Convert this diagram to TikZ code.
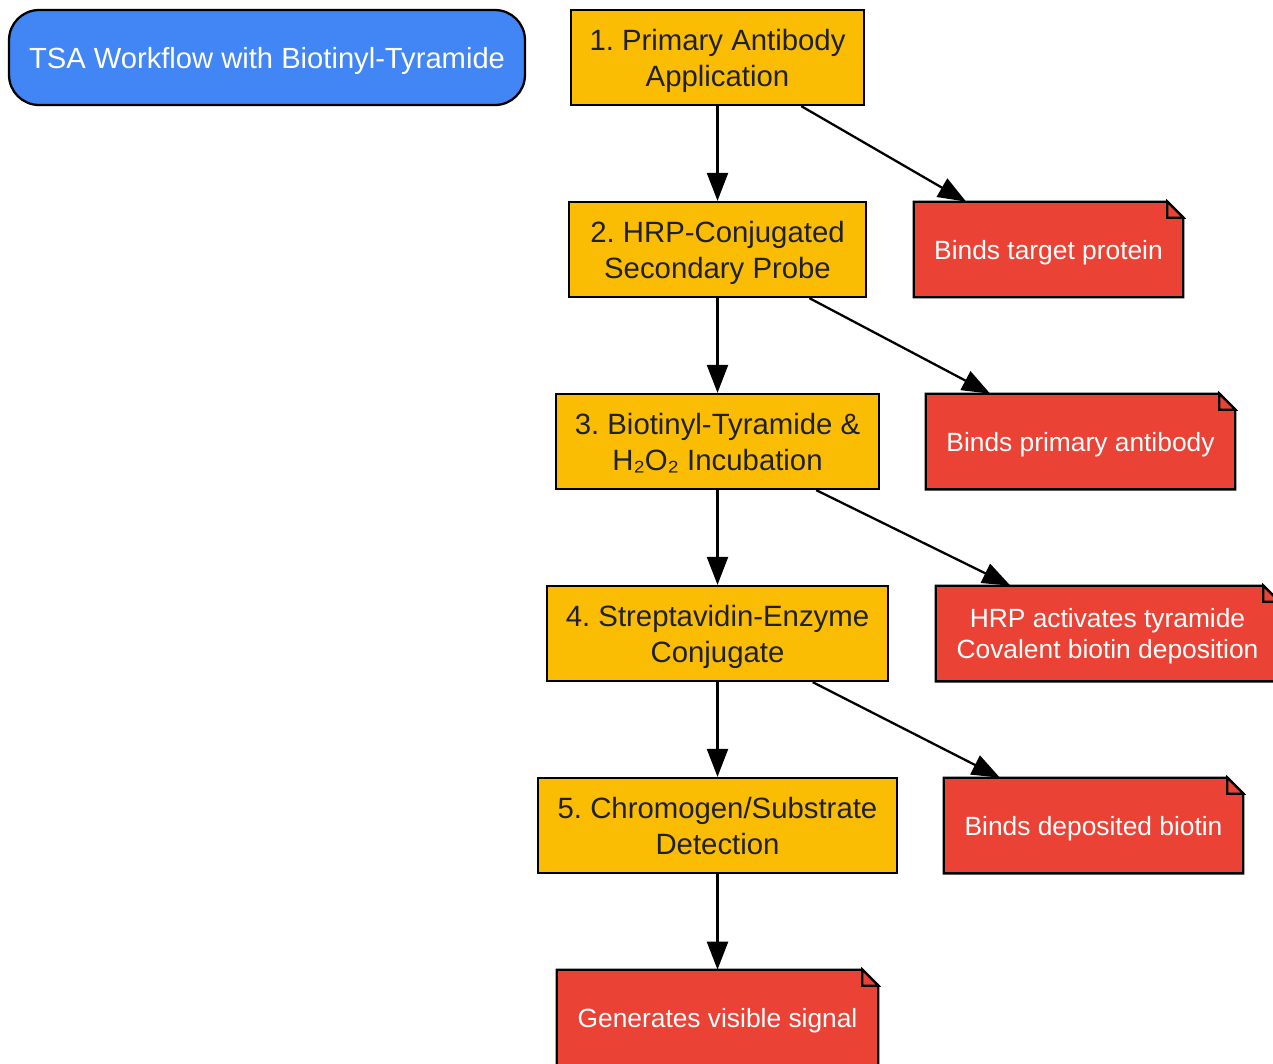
\documentclass[tikz,border=0pt]{standalone}
\usepackage{fontspec}
\setmainfont{Liberation Sans}
\usetikzlibrary{arrows.meta,backgrounds}
\definecolor{tsablue}{HTML}{4285F4}
\definecolor{tsayellow}{HTML}{FBBC04}
\definecolor{tsared}{HTML}{EA4335}
\definecolor{tsatext}{HTML}{202124}
\tikzset{stepbox/.style = {draw, fill=tsayellow, line width=1.3pt, rectangle, text=tsatext, align=center, minimum height=1.9cm, inner sep=0pt, text depth=0pt, font=\fontsize{16.7}{20.4}\selectfont},
         title/.style = {draw, fill=tsablue, line width=1.3pt, rounded corners=0.6cm, text=white, minimum height=1.9cm, minimum width=10.32cm, inner sep=0pt, text depth=0pt, font=\fontsize{16.6}{20.4}\selectfont},
         note/.style = {rectangle, text=white, align=center, minimum height=1.9cm, inner sep=0pt, text depth=0pt, font=\fontsize{15}{18.1}\selectfont},
         notebg/.style = {draw, fill=tsared, line width=1.3pt, line join=miter},
         flow/.style = {-{Triangle[length=0.56cm,width=0.42cm]}, line width=1.3pt}}

\begin{document}
\frenchspacing
\begin{tikzpicture}[x=0.02cm, y=-0.02cm]
    \useasboundingbox (0,0) rectangle (1273,1063);

    \node[title] (head) at (267,57.5) {TSA Workflow with Biotinyl-Tyramide};

    % workflow steps
    \node[stepbox, minimum width=5.86cm] (s1) at (717.5,57.5) {1. Primary Antibody\\Application};
    \node[stepbox, minimum width=5.94cm] (s2) at (717.5,249.5) {2. HRP-Conjugated\\Secondary Probe};
    \node[stepbox, minimum width=6.46cm] (s3) at (717.5,441.5) {3. Biotinyl-Tyramide \&\\H₂O₂ Incubation};
    \node[stepbox, minimum width=6.82cm] (s4) at (717.5,633.5) {4. Streptavidin-Enzyme\\Conjugate};
    \node[stepbox, minimum width=7.18cm] (s5) at (717.5,825.5) {5. Chromogen/Substrate\\Detection};

    % notes
    \node[note, minimum width=5.38cm] (n1) at (1048.5,249.5) {Binds target protein};
    \node[note, minimum width=6.18cm] (n2) at (1080.5,441.5) {Binds primary antibody};
    \node[note, minimum width=6.86cm] (n3) at (1107.5,633.5) {HRP activates tyramide\\Covalent biotin deposition};
    \node[note, minimum width=5.98cm] (n4) at (1093.5,825.5) {Binds deposited biotin};
    \node[note, minimum width=6.42cm] (n5) at (717.5,1017.5) {Generates visible signal};

    \begin{scope}[on background layer]
        \foreach \n in {n1,n2,n3,n4,n5}{
            \draw[notebg] (\n.south west) -- (\n.north west) -- ([xshift=-0.32cm]\n.north east)
                -- ([yshift=-0.32cm]\n.north east) -- (\n.south east) -- cycle;
            \draw[notebg] ([xshift=-0.32cm]\n.north east) |- ([yshift=-0.32cm]\n.north east) -- cycle;
        }
    \end{scope}

    \draw[flow] (s1) -- (s2);
    \draw[flow] (s2) -- (s3);
    \draw[flow] (s3) -- (s4);
    \draw[flow] (s4) -- (s5);
    \draw[flow] (s5) -- (n5);
    \draw[flow] (s1) -- (n1);
    \draw[flow] (s2) -- (n2);
    \draw[flow] (s3) -- (n3);
    \draw[flow] (s4) -- (n4);
\end{tikzpicture}
\end{document}
